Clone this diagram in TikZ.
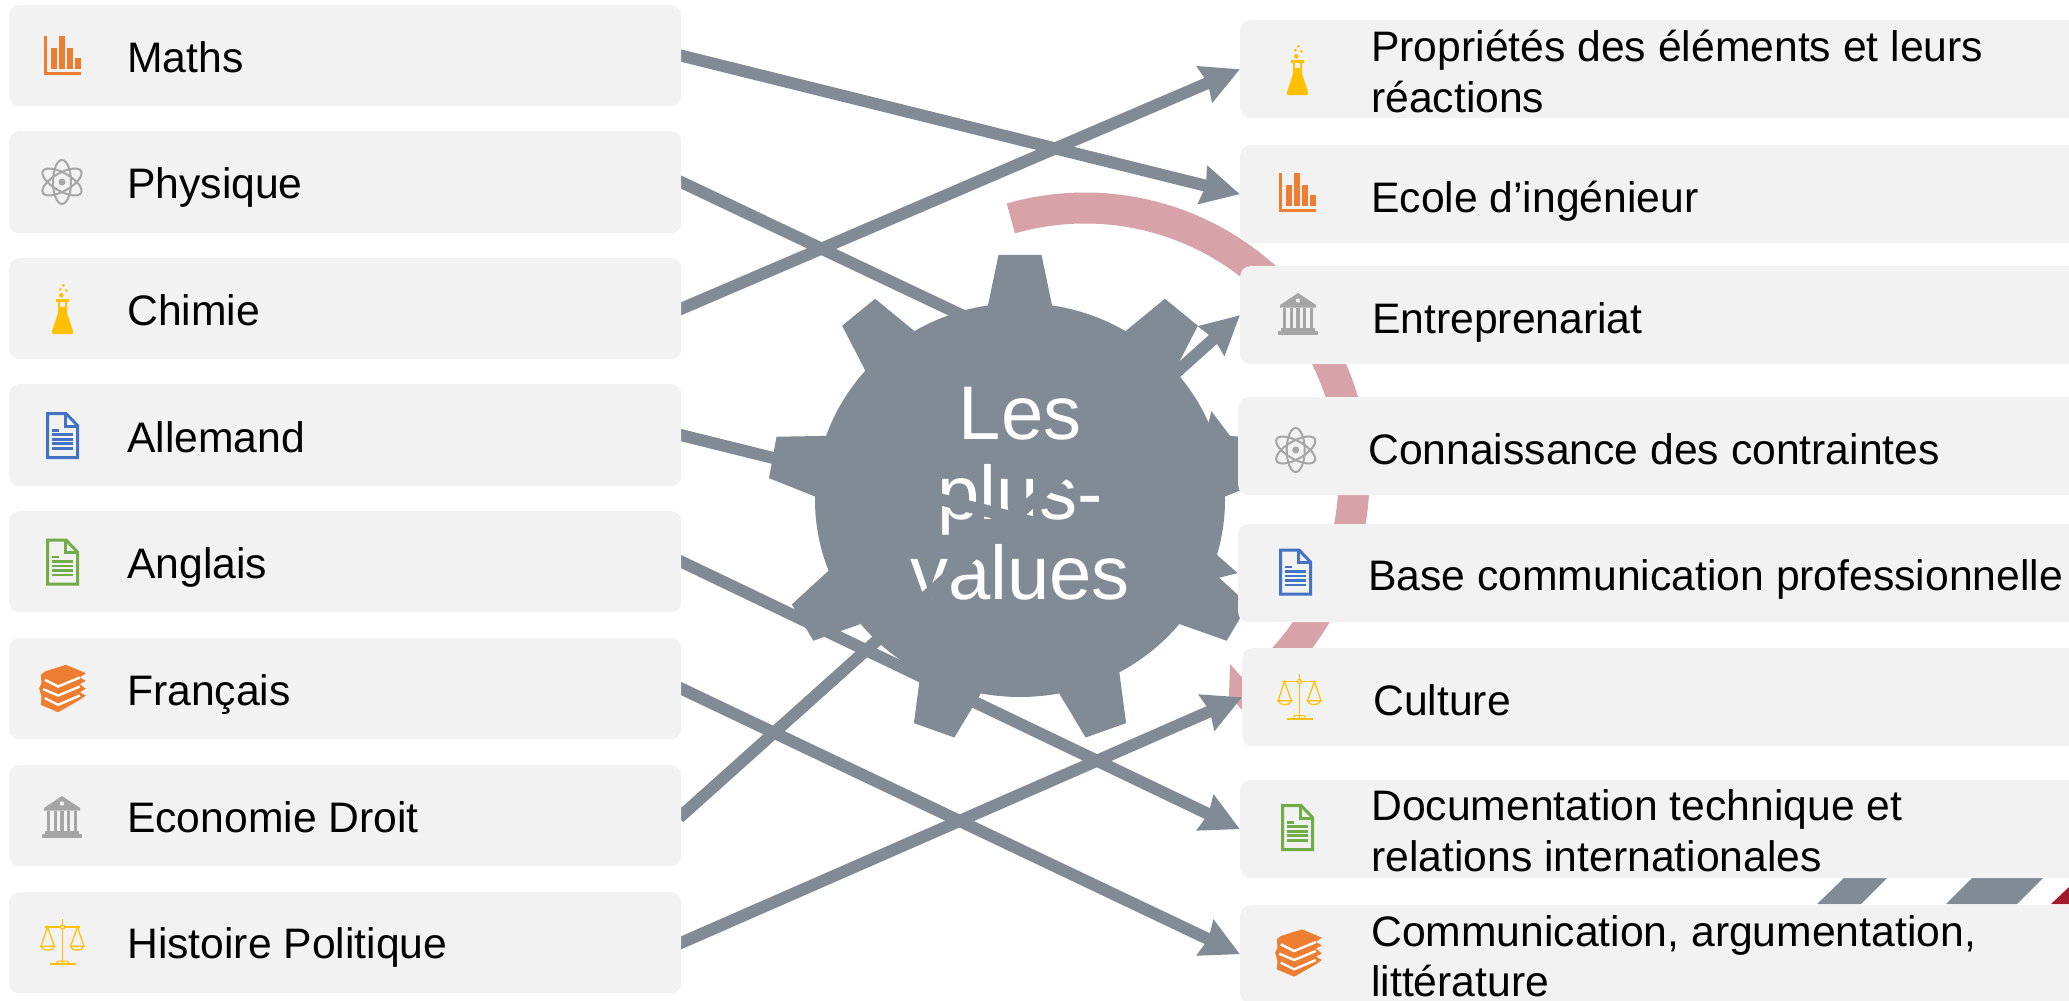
\documentclass[tikz,border=0pt]{standalone}
\usepackage{fontspec}
\setmainfont{Liberation Sans}
\usetikzlibrary{arrows.meta}
\definecolor{boxc}{HTML}{F2F2F2}
\definecolor{slate}{HTML}{808B96}
\definecolor{pinkc}{HTML}{D7A3A8}
\definecolor{redc}{HTML}{A01C2C}
\definecolor{orangec}{HTML}{ED7D31}
\definecolor{goldc}{HTML}{FFC000}
\definecolor{bluec}{HTML}{4472C4}
\definecolor{greenc}{HTML}{70AD47}
\definecolor{grayc}{HTML}{A5A5A5}
\pgfdeclarelayer{under}
\pgfdeclarelayer{mid}
\pgfsetlayers{under,mid,main}
\tikzset{
  x=1pt,y=-1pt,
  boxnode/.style={anchor=north west,fill=boxc,rounded corners=10pt,inner sep=0pt,minimum width=#1},
  lab/.style={anchor=base west,inner sep=0pt,align=left,font=\fontsize{42.67}{51.2}\selectfont,text=black},
  link/.style={draw=slate,line width=12pt,shorten <=-3pt,-{Stealth[length=38pt,width=38pt,inset=3pt]}},
  pics/charticon/.style={code={
    \fill[orangec] (-18.5,-19.5) rectangle (-15.5,19.5);
    \fill[orangec] (-18.5,16.5) rectangle (18.5,19.5);
    \fill[orangec] (-11.5,-7.5) rectangle (-5.5,13.5);
    \fill[orangec] (-3.5,-19.5) rectangle (2.5,13.5);
    \fill[orangec] (4.5,-7.5) rectangle (10.5,13.5);
    \fill[orangec] (12.5,2.5) rectangle (18.5,13.5);
  }},
  pics/atomicon/.style={code={
    \draw[grayc,line width=2pt,rotate=0] (0,0) ellipse [x radius=9pt,y radius=22pt];
    \draw[grayc,line width=2pt,rotate=60] (0,0) ellipse [x radius=9pt,y radius=22pt];
    \draw[grayc,line width=2pt,rotate=-60] (0,0) ellipse [x radius=9pt,y radius=22pt];
    \fill[grayc] (0,0) circle [radius=3.5pt];
  }},
  pics/flaskicon/.style={code={
    \fill[goldc] (-6.5,-11) -- (6.5,-11) -- (6.5,-8) -- (4.5,-8) -- (4.5,3) -- (10.5,21) .. controls (11,23.5) and (10,24) .. (8.5,24) -- (-8.5,24) .. controls (-10,24) and (-11,23.5) .. (-10.5,21) -- (-4.5,3) -- (-4.5,-8) -- (-6.5,-8) -- cycle;
    \fill[boxc] (-2.5,-8) rectangle (2.5,-3);
    \fill[goldc] (-1.2,-14.7) circle [radius=2.3pt];
    \fill[goldc] (-2.2,-20.7) circle [radius=1.5pt];
    \fill[goldc] (3.8,-19.7) circle [radius=1.5pt];
    \fill[goldc] (0.8,-24.7) circle [radius=1.5pt];
  }},
  pics/docicon/.style={code={
    \draw[#1,line width=3pt,miter limit=4] (-15,-22) -- (3.5,-22) -- (15,-10) -- (15,22) -- (-15,22) -- cycle;
    \draw[#1,line width=3pt] (2.5,-22) -- (2.5,-9.5) -- (15,-9.5);
    \fill[#1] (-10.5,-6.5) rectangle (-3.5,-3.8);
    \fill[#1] (-10.5,-2.2) rectangle (10.5,0.5);
    \fill[#1] (-10.5,2.5) rectangle (10.5,5.2);
    \fill[#1] (-10.5,6.8) rectangle (10.5,9.5);
    \fill[#1] (-10.5,11.5) rectangle (10.5,14.2);
  }},
  pics/booksicon/.style={code={
    \begin{scope}[scale=0.3333]
    \fill[orangec] (10,-71) -- (70,-46) -- (52,-33) -- (70,-23) -- (52,-13) -- (70,1) -- (52,11) -- (70,21) -- (52,34) -- (-13,71) -- (-65,49) -- (-63,24) -- (-70,-1) -- (-63,-16) -- (-65,-41) -- (-53,-51) -- cycle;
    \draw[white,line width=2.4pt] (-53,-26) -- (-13,-6) -- (52,-33);
    \draw[white,line width=2.4pt] (-58,2) -- (-13,21) -- (52,-6);
    \draw[white,line width=2.4pt] (-53,29) -- (-13,49) -- (52,21);
    \end{scope}
  }},
  pics/bankicon/.style={code={
    \fill[grayc] (0,-21) -- (18,-9) -- (18,-6.5) -- (-18,-6.5) -- (-18,-9) -- cycle;
    \fill[boxc] (0,-13.5) circle [radius=2.2pt];
    \foreach \cx in {-13.5,-6.75,0,6.75,13.5}{
      \fill[grayc] ({\cx-1.7},-6.5) rectangle ({\cx+1.7},14);
    }
    \fill[grayc] (-17,14) rectangle (17,16.5);
    \fill[grayc] (-20,16.5) rectangle (20,21);
  }},
  pics/scaleicon/.style={code={
    \draw[goldc,line width=1.6pt] (0,-23) -- (0,21);
    \draw[goldc,line width=1.6pt] (-17.5,-15) -- (17.5,-15);
    \filldraw[draw=goldc,fill=boxc,line width=1.2pt] (0,-15) circle [radius=2pt];
    \draw[goldc,line width=1.2pt] (-21.5,4.3) -- (-15,-15) -- (-8,4.3);
    \draw[goldc,line width=1.2pt] (21.5,4.3) -- (15,-15) -- (8,4.3);
    \draw[goldc,line width=1.2pt] (-21.5,4.3) -- (-8,4.3) .. controls (-9,9.5) and (-20,9.5) .. cycle;
    \draw[goldc,line width=1.2pt] (21.5,4.3) -- (8,4.3) .. controls (9,9.5) and (20,9.5) .. cycle;
    \fill[goldc] (-13,21) rectangle (13,23);
    \draw[goldc,line width=1pt] (-6,21) -- (-5,19) -- (5,19) -- (6,21);
  }},
}
\begin{document}
\begin{tikzpicture}
\clip (0,0) rectangle (2069,1001);
\useasboundingbox (0,0) rectangle (2069,1001);

% left boxes
\node[boxnode=672pt,minimum height=101pt] (L1) at (9,5) {};
\node[boxnode=672pt,minimum height=102pt] (L2) at (9,131) {};
\node[boxnode=672pt,minimum height=101pt] (L3) at (9,258) {};
\node[boxnode=672pt,minimum height=102pt] (L4) at (9,384) {};
\node[boxnode=672pt,minimum height=101pt] (L5) at (9,511) {};
\node[boxnode=672pt,minimum height=101pt] (L6) at (9,638) {};
\node[boxnode=672pt,minimum height=101pt] (L7) at (9,765) {};
\node[boxnode=672pt,minimum height=101pt] (L8) at (9,892) {};

% right boxes
\node[boxnode=860pt,minimum height=98pt] (R1) at (1240,20) {};
\node[boxnode=860pt,minimum height=98pt] (R2) at (1240,145) {};
\node[boxnode=860pt,minimum height=98pt] (R3) at (1240,266) {};
\node[boxnode=860pt,minimum height=98pt] (R4) at (1238,397) {};
\node[boxnode=860pt,minimum height=98pt] (R5) at (1238,524) {};
\node[boxnode=860pt,minimum height=98pt] (R6) at (1242,648) {};
\node[boxnode=860pt,minimum height=98pt] (R7) at (1240,780) {};
\node[boxnode=860pt,minimum height=98pt] (R8) at (1240,905) {};

% labels
\node[lab] (tL1) at (127,72.5) {Maths};
\node[lab] (tL2) at (127,198.5) {Physique};
\node[lab] (tL3) at (127,325) {Chimie};
\node[lab] (tL4) at (127,452) {Allemand};
\node[lab] (tL5) at (127,578) {Anglais};
\node[lab] (tL6) at (127,705) {Français};
\node[lab] (tL7) at (127,832) {Economie Droit};
\node[lab] (tL8) at (127,958) {Histoire Politique};
\node[lab] (tR1a) at (1371,61) {Propriétés des éléments et leurs};
\node[lab] (tR1b) at (1371,112.5) {réactions};
\node[lab] (tR2) at (1371,212) {Ecole d’ingénieur};
\node[lab] (tR3) at (1372,333) {Entreprenariat};
\node[lab] (tR4) at (1368,464) {Connaissance des contraintes};
\node[lab] (tR5) at (1368,590) {Base communication professionnelle};
\node[lab] (tR6) at (1373,715) {Culture};
\node[lab] (tR7a) at (1371,820) {Documentation technique et};
\node[lab] (tR7b) at (1371,871) {relations internationales};
\node[lab] (tR8a) at (1371,946) {Communication, argumentation,};
\node[lab] (tR8b) at (1371,996.5) {littérature};

% icons
\pic at (62.5,55.5) {charticon};
\pic at (62,182) {atomicon};
\pic at (62.5,310) {flaskicon};
\pic at (62.5,435.5) {docicon=bluec};
\pic at (62.5,562) {docicon=greenc};
\pic at (62.5,688.5) {booksicon};
\pic at (62,817) {bankicon};
\pic at (62.5,942) {scaleicon};
\pic at (1297.5,71) {flaskicon};
\pic at (1297.5,192.4) {charticon};
\pic at (1298,314) {bankicon};
\pic at (1295.7,450) {atomicon};
\pic at (1295.5,572) {docicon=bluec};
\pic at (1299.5,696.5) {scaleicon};
\pic at (1297.5,827.5) {docicon=greenc};
\pic at (1298.5,953) {booksicon};

\begin{pgfonlayer}{under}
  % pink circular arrow
  \draw[pinkc,line width=31pt] plot[domain=106:-52,samples=80,smooth] ({1085+269*cos(\x)},{477-269*sin(\x)});
  \fill[pinkc] (1230,664) -- (1262,700) -- (1290,700) -- (1290,730) -- (1242,710) -- (1229,696) -- cycle;
  % stripes
  \fill[slate] (1817,904) -- (1845,877) -- (1888,877) -- (1861,904) -- cycle;
  \fill[slate] (1946,904) -- (1973,877) -- (2044,877) -- (2017,904) -- cycle;
  \fill[redc] (2051,904) -- (2069,887) -- (2069,904) -- cycle;
  % gear
  \fill[slate] (1020,500) ellipse [x radius=205pt,y radius=197pt];
  \foreach \t in {90,50,10,-30,-70,-110,-150,170,130}{
    \fill[slate] ({1020+204.9*cos(\t+9)},{500-197*sin(\t+9)})
      -- ({1020+252*cos(\t+4.9)},{500-246*sin(\t+4.9)})
      -- ({1020+252*cos(\t-4.9)},{500-246*sin(\t-4.9)})
      -- ({1020+204.9*cos(\t-9)},{500-197*sin(\t-9)}) -- cycle;
  }
  \node[inner sep=0pt,align=center,text=white,font=\fontsize{76}{80}\selectfont] (gearlabel) at (1020,494) {Les\\plus-\\values};
\end{pgfonlayer}

\begin{pgfonlayer}{mid}
  \draw[link] (L1.east) -- (R2.west);
  \draw[link] (L2.east) -- (R4.west);
  \draw[link] (L3.east) -- (R1.west);
  \draw[link] (L4.east) -- (R5.west);
  \draw[link] (L5.east) -- (R7.west);
  \draw[link] (L6.east) -- (R8.west);
  \draw[link] (L7.east) -- (R3.west);
  \draw[link] (L8.east) -- (R6.west);
\end{pgfonlayer}
\end{tikzpicture}
\end{document}
